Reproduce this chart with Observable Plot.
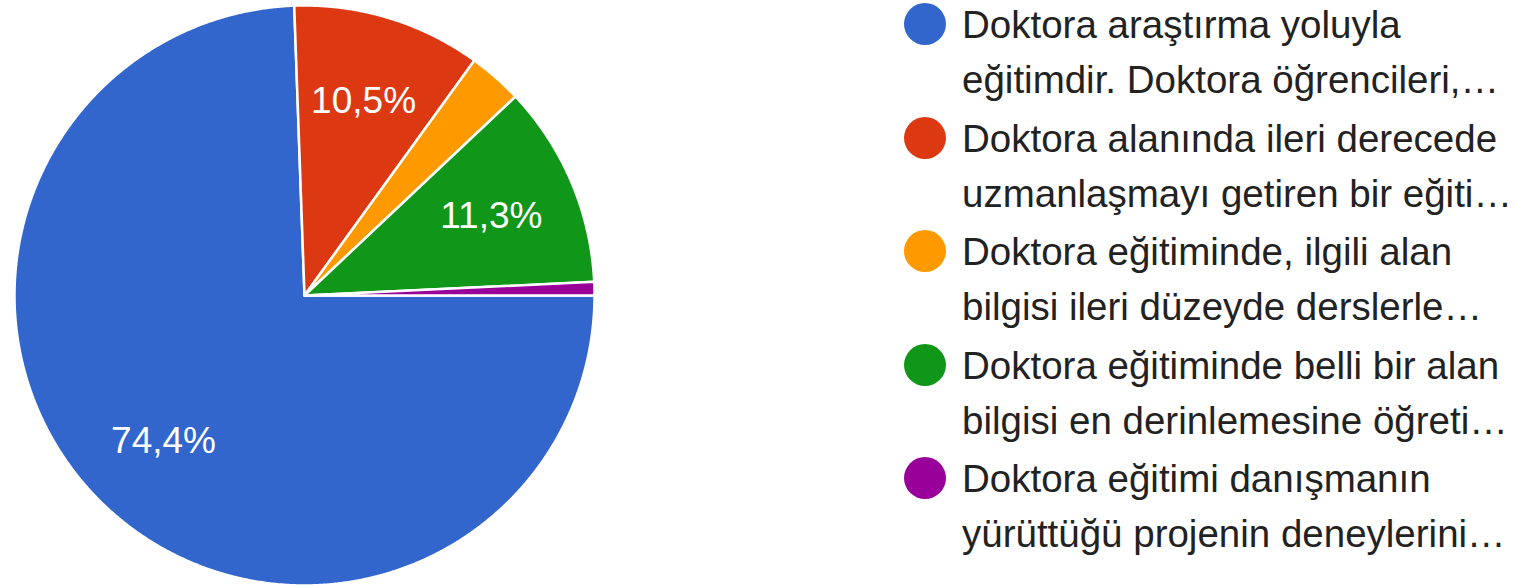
<!DOCTYPE html>
<html>
<head>
<meta charset="utf-8">
<script src="https://cdn.jsdelivr.net/npm/d3@7"></script>
<script src="https://cdn.jsdelivr.net/npm/@observablehq/plot@0.6"></script>
<style>
  html, body { margin: 0; padding: 0; background: #fff; }
  body { width: 1524px; height: 588px; position: relative; overflow: hidden; font-family: "Liberation Sans", Arial, sans-serif; }
  #pie { position: absolute; left: 0; top: 0; }
  #legend { position: absolute; left: 904px; top: -2.7px; color: #222; font-size: 38.5px; line-height: 55px; }
  .item { position: relative; padding-left: 58px; margin-bottom: 3.5px; white-space: nowrap; }
  .sw { position: absolute; left: 0; top: 5.7px; width: 42px; height: 42px; border-radius: 50%; }
</style>
</head>
<body>
<div id="pie"></div>
<div id="legend"></div>
<script>
// Data
const categories = [
  "Doktora araştırma yoluyla eğitimdir. Doktora öğrencileri,…",
  "Doktora alanında ileri derecede uzmanlaşmayı getiren bir eğiti…",
  "Doktora eğitiminde, ilgili alan bilgisi ileri düzeyde derslerle…",
  "Doktora eğitiminde belli bir alan bilgisi en derinlemesine öğreti…",
  "Doktora eğitimi danışmanın yürüttüğü projenin deneylerini…"
];
const legendLine1 = [
  "Doktora araştırma yoluyla",
  "Doktora alanında ileri derecede",
  "Doktora eğitiminde, ilgili alan",
  "Doktora eğitiminde belli bir alan",
  "Doktora eğitimi danışmanın"
];
const legendLine2 = [
  "eğitimdir. Doktora öğrencileri,…",
  "uzmanlaşmayı getiren bir eğiti…",
  "bilgisi ileri düzeyde derslerle…",
  "bilgisi en derinlemesine öğreti…",
  "yürüttüğü projenin deneylerini…"
];
const counts = [99, 14, 4, 15, 1];
const colors = ["#3366cc", "#dc3912", "#ff9900", "#109618", "#990099"];

// Slices: first slice starts at 3 o'clock, clockwise
const total = d3.sum(counts);
const start = Math.PI / 2;
const arcs = d3.pie().sort(null).startAngle(start).endAngle(start + 2 * Math.PI)(counts);

const pt = (a, r) => [r * Math.sin(a), -r * Math.cos(a)];
const features = arcs.map((d, i) => {
  const ring = [[0, 0]];
  const n = Math.max(2, Math.ceil((d.endAngle - d.startAngle) / 0.005));
  for (let k = 0; k <= n; k++) ring.push(pt(d.startAngle + (d.endAngle - d.startAngle) * k / n, 1));
  ring.push([0, 0]);
  return {type: "Feature", properties: {category: categories[i]}, geometry: {type: "Polygon", coordinates: [ring]}};
});
const circle = {type: "Polygon", coordinates: [d3.range(0, 361).map(k => pt(k * Math.PI / 180, 1))]};

const fmt = v => (Math.round(v * 1000) / 10).toFixed(1).replace(".", ",") + "%";
const labels = arcs.map((d, i) => {
  const mid = (d.startAngle + d.endAngle) / 2;
  const [x, y] = pt(mid, 0.70);
  return {x, y, text: fmt(counts[i] / total), show: counts[i] / total > 0.05};
}).filter(d => d.show);

const chart = Plot.plot({
  width: 608,
  height: 588,
  margin: 0,
  projection: {type: "identity", domain: circle, insetTop: 5, insetBottom: 3, insetLeft: 4, insetRight: 4},
  color: {domain: categories, range: colors},
  marks: [
    Plot.geo(features, {fill: d => d.properties.category, stroke: "white", strokeWidth: 2.5, strokeLinejoin: "round"}),
    Plot.text(labels, {x: "x", y: "y", text: "text", fill: "white", fontSize: 37, fontFamily: "Liberation Sans, Arial, sans-serif"})
  ]
});
document.getElementById("pie").appendChild(chart);

// Legend
const legend = document.getElementById("legend");
categories.forEach((c, i) => {
  const item = document.createElement("div");
  item.className = "item";
  const sw = document.createElement("span");
  sw.className = "sw";
  sw.style.background = colors[i];
  item.appendChild(sw);
  const l1 = document.createElement("div"); l1.textContent = legendLine1[i];
  const l2 = document.createElement("div"); l2.textContent = legendLine2[i];
  item.appendChild(l1); item.appendChild(l2);
  legend.appendChild(item);
});
</script>
</body>
</html>
